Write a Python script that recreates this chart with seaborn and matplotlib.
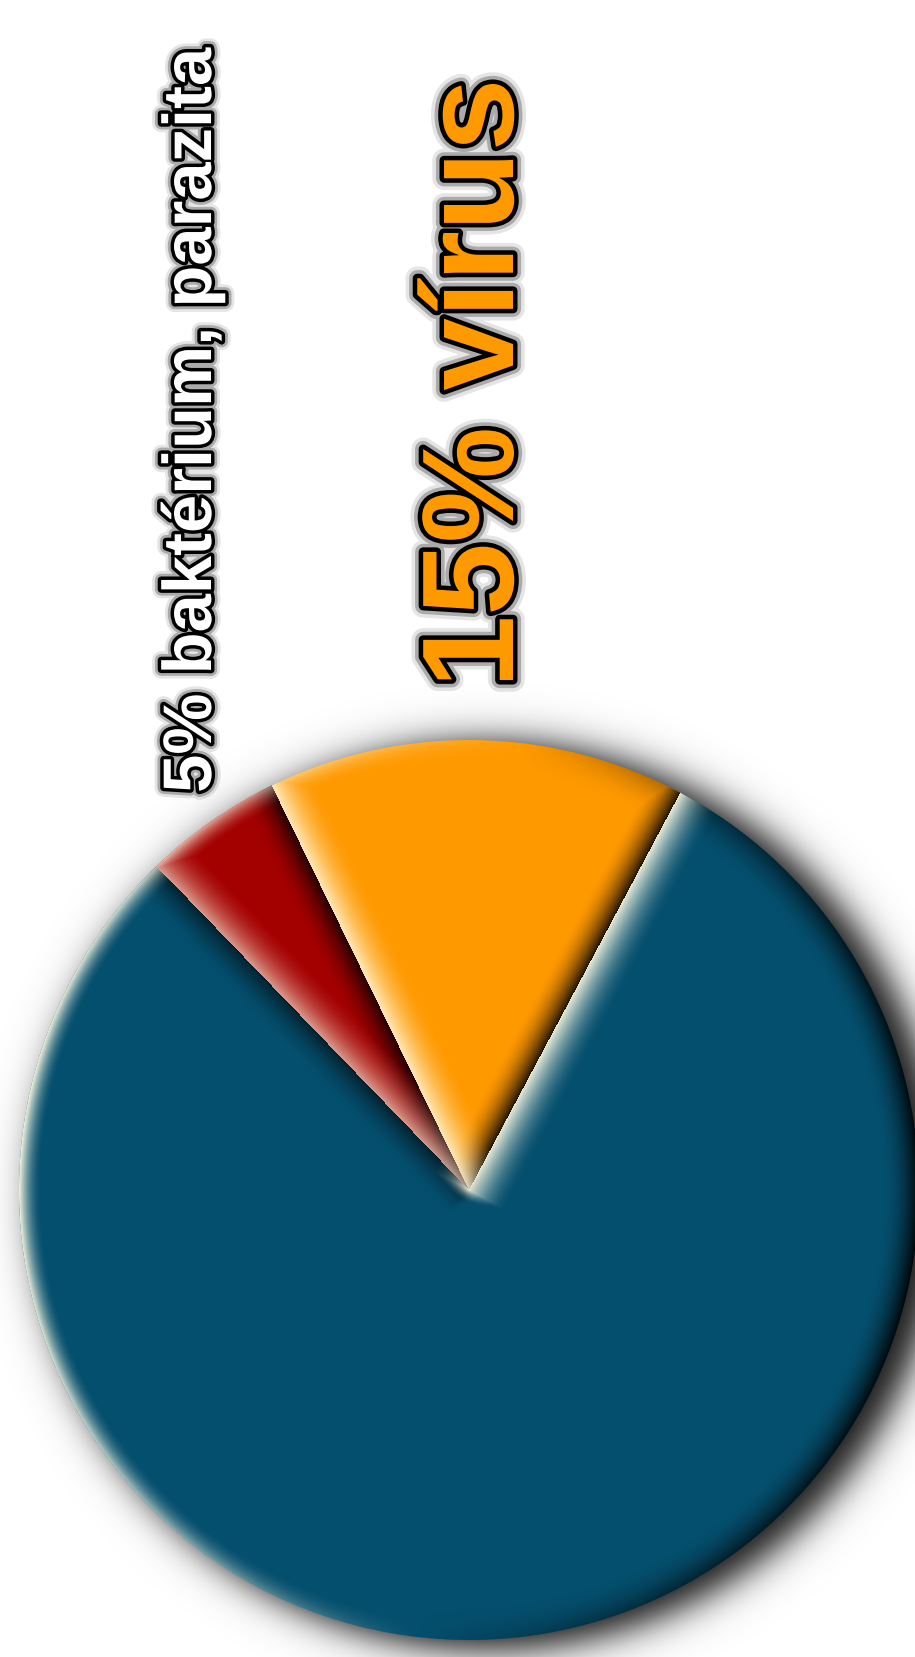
import numpy as np
import matplotlib
matplotlib.use("Agg")
import matplotlib.pyplot as plt
import matplotlib.patheffects as pe
import seaborn as sns

# Share of causes (percent) and their slice colours
categories = ["vírus", "baktérium, parazita", "egyéb"]
shares = [15, 5, 80]
slice_colors = ["#FF9900", "#A30000", "#054F6E"]

W, H = 915, 1657

sns.set_theme(style="white")
plt.rcParams["font.family"] = ["Liberation Sans", "DejaVu Sans"]

fig = plt.figure(figsize=(W / 100, H / 100), dpi=100)
fig.patch.set_facecolor("white")
ax = fig.add_axes([0, 0, 1, 1])

cx, cy, R = 469.0, H - 1190.0, 450.0

wedges, _ = ax.pie(
    shares,
    colors=sns.color_palette(slice_colors),
    startangle=62,
    counterclock=True,
    center=(cx, cy),
    radius=R,
    wedgeprops=dict(linewidth=0, zorder=2),
)

# pixel grid in data coordinates (one data unit = one pixel)
X, Yimg = np.meshgrid(np.arange(W) + 0.5, np.arange(H) + 0.5)
Y = H - Yimg
px, py = X - cx, Y - cy
rho = np.hypot(px, py)
rho_safe = np.maximum(rho, 1e-6)

# soft drop shadow behind the pie
ds = np.hypot(X - (cx + 20), Y - (cy - 6))
shadow = np.zeros((H, W, 4))
shadow[..., 3] = 0.92 / (1 + np.exp((ds - (R + 4)) / 11.0))
ax.imshow(shadow, extent=(0, W, 0, H), origin="upper", zorder=1,
          interpolation="bilinear")

# bevel shading: edges facing the light get a cream highlight, the others a dark rim
light = np.array([-1.0, 0.12])
light /= np.linalg.norm(light)


def falloff(d, width):
    return np.clip(1 - d / width, 0, 1) ** 1.8


def ray_distance(u):
    # distance to the ray from the centre along u; behind the centre it grows faster
    proj = px * u[0] + py * u[1]
    perp = np.abs(px * u[1] - py * u[0])
    behind = np.clip(-proj / rho_safe, 0, 1)
    return np.where(proj > 0, perp, rho * (1 + 2.5 * behind))


hi = np.zeros((H, W))
lo = np.zeros((H, W))
edge_soft = np.clip(R - rho + 0.5, 0, 1)
for w in wedges:
    t1, t2 = np.deg2rad(w.theta1), np.deg2rad(w.theta2)
    phi = (np.arctan2(py, px) - t1) % (2 * np.pi)
    inside = (rho <= R + 1) & (phi <= (t2 - t1))

    parts = []
    # outer arc: narrow highlight, broad dark rim
    s_arc = (px / rho_safe) * light[0] + (py / rho_safe) * light[1]
    parts.append((R - rho, s_arc, 22.0, 36.0))
    # radial edge at theta1 (outward normal points clockwise)
    u1 = np.array([np.cos(t1), np.sin(t1)])
    n1 = np.array([np.sin(t1), -np.cos(t1)])
    parts.append((ray_distance(u1), float(n1 @ light), 42.0, 34.0))
    # radial edge at theta2 (outward normal points counter-clockwise)
    u2 = np.array([np.cos(t2), np.sin(t2)])
    n2 = np.array([-np.sin(t2), np.cos(t2)])
    parts.append((ray_distance(u2), float(n2 @ light), 42.0, 34.0))

    for d, s, bw_hi, bw_lo in parts:
        hi = np.where(inside, np.maximum(hi, np.clip(s, 0, 1) * falloff(d, bw_hi)), hi)
        lo = np.where(inside, np.maximum(lo, np.clip(-s, 0, 1) * falloff(d, bw_lo)), lo)

hi *= 0.97 * edge_soft
lo *= 0.93 * edge_soft
alpha = 1 - (1 - hi) * (1 - lo)
cream = np.array([1.0, 0.99, 0.90])
bevel = np.zeros((H, W, 4))
with np.errstate(invalid="ignore", divide="ignore"):
    share_hi = np.where(alpha > 0, hi / alpha, 0)
bevel[..., :3] = cream * share_hi[..., None]
bevel[..., 3] = alpha
ax.imshow(bevel, extent=(0, W, 0, H), origin="upper", zorder=3,
          interpolation="bilinear")


def outline(width):
    return [
        pe.Stroke(linewidth=width * 2.6, foreground="black", alpha=0.10),
        pe.Stroke(linewidth=width * 1.8, foreground="black", alpha=0.25),
        pe.Stroke(linewidth=width, foreground="black"),
        pe.Normal(),
    ]


ax.text(513, H - 383.5, f"{shares[0]}% {categories[0]}", rotation=90,
        rotation_mode="anchor", ha="center", va="baseline", fontsize=94,
        fontweight="bold", color=slice_colors[0], path_effects=outline(6.5),
        zorder=5)
ax.text(211, H - 420.5, f"{shares[1]}% {categories[1]}", rotation=90,
        rotation_mode="anchor", ha="center", va="baseline", fontsize=49.5,
        fontweight="bold", color="white", path_effects=outline(5),
        zorder=5)

ax.set_xlim(0, W)
ax.set_ylim(0, H)
ax.set_aspect("equal")
ax.axis("off")
fig.savefig("out.png", dpi=100, facecolor="white")
